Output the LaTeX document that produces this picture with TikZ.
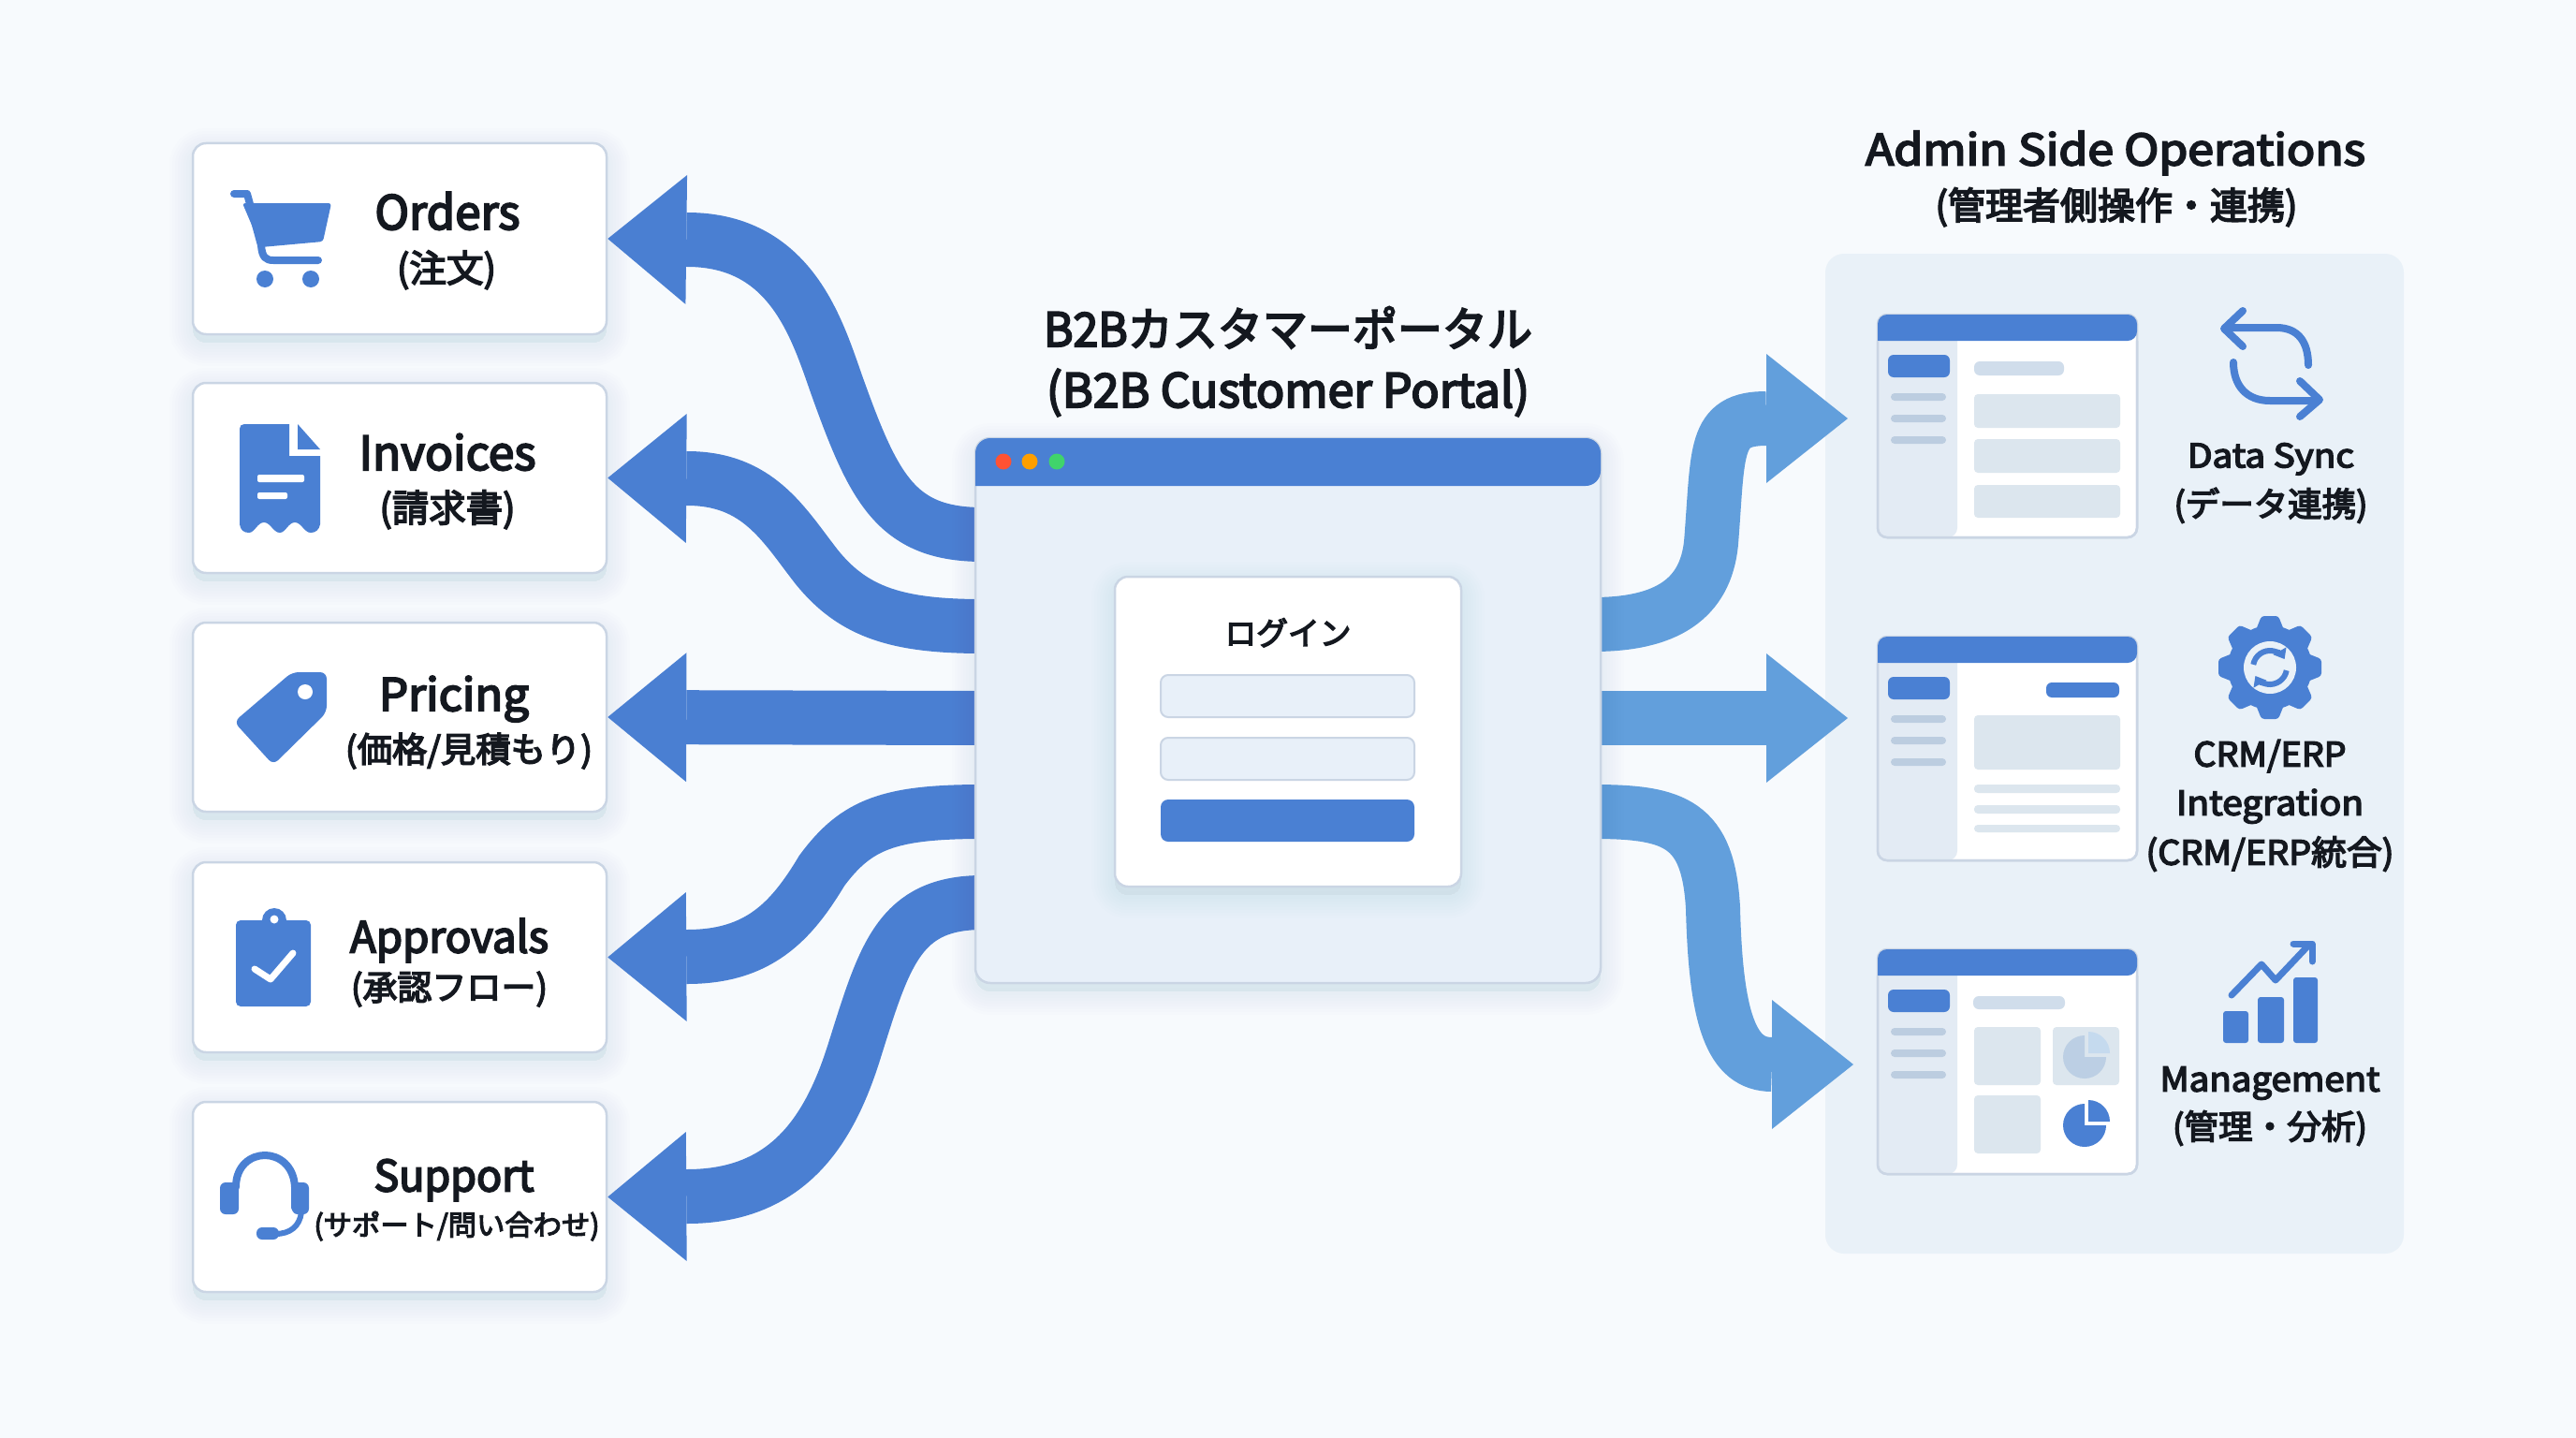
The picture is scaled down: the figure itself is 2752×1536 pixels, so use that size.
\documentclass[tikz,border=0pt]{standalone}
\usepackage{graphicx}
\usepackage{fontspec}
\setmainfont{Noto Sans CJK JP}
\newfontfamily\medfont{Noto Sans CJK JP}[FakeBold=4]
\usetikzlibrary{arrows.meta,shadows}
\definecolor{bgc}{HTML}{F7FAFD}
\definecolor{ink}{HTML}{14181F}
\definecolor{flowL}{HTML}{4A7FD2}
\definecolor{flowR}{HTML}{629FDC}
\definecolor{barblue}{HTML}{4A80D3}
\definecolor{winfill}{HTML}{E8F0F9}
\definecolor{edge}{HTML}{CAD5E4}
\definecolor{panelc}{HTML}{E9F1F8}
\definecolor{sidec}{HTML}{E3EBF4}
\definecolor{barc}{HTML}{BCCDE0}
\definecolor{headc}{HTML}{D0DDEB}
\definecolor{blockc}{HTML}{DCE6EE}
\definecolor{pale}{HTML}{BCCFE4}
\definecolor{paleb}{HTML}{C5DAEE}
\definecolor{shc}{HTML}{5A7396}
\tikzset{
  softshadow/.style={
    general shadow={shadow yshift=-9pt,fill=shc,draw=shc,line width=50pt,opacity=.008},
    general shadow={shadow yshift=-9pt,fill=shc,draw=shc,line width=44pt,opacity=.008},
    general shadow={shadow yshift=-9pt,fill=shc,draw=shc,line width=38pt,opacity=.008},
    general shadow={shadow yshift=-9pt,fill=shc,draw=shc,line width=32pt,opacity=.008},
    general shadow={shadow yshift=-9pt,fill=shc,draw=shc,line width=26pt,opacity=.008},
    general shadow={shadow yshift=-9pt,fill=shc,draw=shc,line width=20pt,opacity=.008},
    general shadow={shadow yshift=-9pt,fill=shc,draw=shc,line width=14pt,opacity=.008},
    general shadow={shadow yshift=-9pt,fill=shc,draw=shc,line width=8pt,opacity=.008}},
  cardbox/.style={draw=edge,line width=2.5pt,fill=white,rounded corners=14pt,inner sep=0pt,softshadow},
  leftflow/.style={draw=flowL,line width=58pt,-{Triangle[length=84pt,width=138pt,line width=0pt,fill=flowL]}},
  rightflow/.style={draw=flowR,line width=58pt,-{Triangle[length=87pt,width=138pt,line width=0pt,fill=flowR]}},
  fieldbox/.style={draw=edge,line width=2pt,fill=winfill,rounded corners=8pt,inner sep=0pt},
  lbl/.style={font=\fontsize{#1}{#1}\selectfont\medfont,text=ink,inner sep=0pt},
  icline/.style={draw=barblue,line width=8pt,line cap=round,line join=round},
  icfill/.style={fill=barblue}
}
\newcommand\lab[6]{\node[lbl=#4] (#1) at (#2,#3) {\rule[-.12em]{0pt}{1em}\smash{\resizebox{#5pt}{\height}{#6}}};}
\newcommand\adminscreen[3]{%
  \node[draw=edge,line width=2.5pt,fill=white,rounded corners=10pt,inner sep=0pt,minimum width=277pt,minimum height=#3pt] (#1) at (2144.5,#2+#3/2) {};
  \begin{scope}[shift={(0,#2)}]
    \fill[sidec,rounded corners=10pt] (2091,20) -- (2006,20) -- (2006,#3) -- (2091,#3) [sharp corners] -- cycle;
    \fill[barblue,rounded corners=10pt] (2006,28) -- (2006,0) -- (2283,0) -- (2283,28) [sharp corners] -- cycle;
    \draw[edge,line width=2.5pt,rounded corners=10pt] (2006,28) -- (2006,#3) -- (2283,#3) -- (2283,28);
    \fill[barblue,rounded corners=6pt] (2017,43) rectangle (2083,67);
    \fill[barc,rounded corners=4pt] (2020,84) rectangle (2079,92);
    \fill[barc,rounded corners=4pt] (2020,107) rectangle (2079,115);
    \fill[barc,rounded corners=4pt] (2020,130) rectangle (2079,138);
  \end{scope}}
\newcommand\piechart[5]{%
  \fill[#4] (#1,#2) -- ++(#3,0) arc[start angle=0,end angle=270,radius=#3] -- cycle;
  \fill[#5] (#1+4,#2-4) -- ++(0,-#3) arc[start angle=270,end angle=360,radius=#3] -- cycle;}
\begin{document}
\begin{tikzpicture}[x=1pt,y=-1pt]
\useasboundingbox (0,0) rectangle (2752,1536);
\fill[bgc] (0,0) rectangle (2752,1536);

% admin panel
\node[fill=panelc,rounded corners=20pt,inner sep=0pt,minimum width=618pt,minimum height=1068pt] (panel) at (2259,805) {};

% left cards
\node[cardbox,minimum width=442pt,minimum height=204pt] (box1) at (427,255) {};
\node[cardbox,minimum width=442pt,minimum height=203pt] (box2) at (427,510.5) {};
\node[cardbox,minimum width=442pt,minimum height=202pt] (box3) at (427,766) {};
\node[cardbox,minimum width=442pt,minimum height=203pt] (box4) at (427,1022.5) {};
\node[cardbox,minimum width=442pt,minimum height=203pt] (box5) at (427,1278.5) {};

% connector ends
\coordinate (w1) at (1050,571);
\coordinate (w2) at (1050,669);
\coordinate (w3) at (1050,767);
\coordinate (w4) at (1050,867);
\coordinate (w5) at (1050,964);
\coordinate (e1) at (1702,667);
\coordinate (e2) at (1702,767);
\coordinate (e3) at (1702,867);
\coordinate (r1) at (1974,447);
\coordinate (r2) at (1974,767);
\coordinate (r3) at (1980,1137);

% left connectors
\draw[leftflow] (w1) .. controls (960,571) and (935,525) .. (897,420) .. controls (875,360) and (850,256) .. (734,256) -- (box1.east);
\draw[leftflow] (w2) .. controls (960,669) and (912,655) .. (872,605) .. controls (837,560) and (810,511) .. (734,511) -- (box2.east);
\draw[leftflow] (w3) -- (box3.east);
\draw[leftflow] (w4) .. controls (950,867) and (915,880) .. (878,930) .. controls (845,985) and (810,1022) .. (734,1022) -- (box4.east);
\draw[leftflow] (w5) .. controls (960,964) and (945,1020) .. (912,1125) .. controls (885,1210) and (840,1278) .. (734,1278) -- (box5.east);

% right connectors
\draw[rightflow] (e1) .. controls (1780,667) and (1822,640) .. (1828,580) .. controls (1836,480) and (1830,447) .. (1887,447) -- (r1);
\draw[rightflow] (e2) -- (r2);
\draw[rightflow] (e3) .. controls (1790,867) and (1825,880) .. (1830,970) .. controls (1833,1090) and (1850,1137) .. (1893,1137) -- (r3);

% main window
\node[draw=edge,line width=2.5pt,fill=winfill,rounded corners=16pt,inner sep=0pt,minimum width=668pt,minimum height=582pt,softshadow] (win) at (1376,759) {};
\fill[barblue,rounded corners=16pt] (1042,519) -- (1042,468) -- (1710,468) -- (1710,519) [sharp corners] -- cycle;
\node[circle,fill=red!70!orange!80,minimum size=17pt,inner sep=0pt] (dotr) at (1072,493) {};
\node[circle,fill=orange!75!yellow,minimum size=17pt,inner sep=0pt] (doty) at (1100,493) {};
\node[circle,fill=green!55!teal!75,minimum size=17pt,inner sep=0pt] (dotg) at (1129,493) {};

% login card
\node[cardbox,minimum width=370pt,minimum height=331pt] (login) at (1376,781.5) {};
\lab{logint}{1376}{676}{34}{135}{ログイン}
\node[fieldbox,minimum width=271pt,minimum height=45pt] (field1) at (1375.5,743.5) {};
\node[fieldbox,minimum width=271pt,minimum height=45pt] (field2) at (1375.5,810.5) {};
\node[fill=barblue,rounded corners=8pt,inner sep=0pt,minimum width=271pt,minimum height=45pt] (loginbtn) at (1375.5,876.5) {};

% titles
\lab{title1}{1376}{351}{50}{522}{B2Bカスタマーポータル}
\lab{title2}{1376}{416}{50}{516}{(B2B Customer Portal)}
\lab{admin1}{2260}{159}{46}{534}{Admin Side Operations}
\lab{admin2}{2261}{219}{40}{387}{(管理者側操作・連携)}

% card labels
\lab{t1a}{478}{226}{50}{155}{Orders}
\lab{t1b}{477}{286}{40}{106}{(注文)}
\lab{t2a}{478}{483}{50}{189}{Invoices}
\lab{t2b}{478}{542}{40}{145}{(請求書)}
\lab{t3a}{485}{741}{48}{160}{Pricing}
\lab{t3b}{501}{800}{37}{264}{(価格/見積もり)}
\lab{t4a}{480}{1000}{46}{212}{Approvals}
\lab{t4b}{480}{1054}{37}{210}{(承認フロー)}
\lab{t5a}{485}{1255}{46}{171}{Support}
\lab{t5b}{488}{1308}{30}{305}{(サポート/問い合わせ)}

% cart icon
\fill[icfill,rounded corners=3pt] (259,217) -- (354,217) -- (345,258) -- (279,264) -- cycle;
\draw[icline] (250,207) -- (264,207) -- (279,262) .. controls (280,275) and (284,278) .. (292,278) -- (340,278);
\fill[icfill] (283,298) circle[radius=9];
\fill[icfill] (332,298) circle[radius=9];

% invoice icon
\fill[icfill] (256,458) .. controls (256,455) and (258,453) .. (261,453) -- (309,453) -- (309,487) -- (342,487) -- (342,560) .. controls (341,566) and (337,569) .. (332,569) .. controls (325,569) and (322,558) .. (315,558) .. controls (308,558) and (305,569) .. (299,569) .. controls (292,569) and (289,558) .. (282,558) .. controls (275,558) and (272,569) .. (266,569) .. controls (260,569) and (257,566) .. (256,560) -- cycle;
\fill[icfill] (318,453) -- (342,480) -- (318,480) -- cycle;
\fill[white,rounded corners=2pt] (275,507) rectangle (325,515);
\fill[white,rounded corners=2pt] (275,526) rectangle (307,533);

% tag icon
\fill[icfill,rounded corners=7pt] (312,718) -- (349,718) -- (349,761) -- (292,817) -- (250,771) -- cycle;
\fill[white] (326,739) circle[radius=8];

% clipboard icon
\fill[icfill] (293,983) circle[radius=13];
\fill[icfill,rounded corners=5pt] (252,983) rectangle (332,1075);
\fill[white] (293,982) circle[radius=4.5];
\draw[white,line width=7pt,line cap=round,line join=round] (272,1035) -- (289,1046) -- (313,1018);

% headset icon
\draw[icline] (252,1268) .. controls (252,1245) and (268,1234) .. (283,1234) .. controls (298,1234) and (314,1245) .. (315,1268) -- (315,1290);
\fill[icfill,rounded corners=6pt] (235,1263) rectangle (255,1297);
\fill[icfill,rounded corners=6pt] (312,1263) rectangle (330,1297);
\draw[icline,line width=6pt] (322,1295) .. controls (320,1310) and (310,1318) .. (294,1318);
\fill[icfill,rounded corners=6pt] (274,1311) rectangle (298,1324);

% admin screens
\adminscreen{scr1}{336}{238}
\adminscreen{scr2}{680}{239}
\adminscreen{scr3}{1014}{240}

% screen 1 content
\fill[headc,rounded corners=6pt] (2109,386) rectangle (2205,401);
\fill[blockc,rounded corners=4pt] (2109,421) rectangle (2265,457);
\fill[blockc,rounded corners=4pt] (2109,469) rectangle (2265,505);
\fill[blockc,rounded corners=4pt] (2109,518) rectangle (2265,553);

% screen 2 content
\fill[barblue,rounded corners=6pt] (2186,729) rectangle (2264,745);
\fill[blockc,rounded corners=4pt] (2109,764) rectangle (2265,822);
\fill[blockc,rounded corners=4pt] (2109,838) rectangle (2265,847);
\fill[blockc,rounded corners=4pt] (2109,860) rectangle (2265,869);
\fill[blockc,rounded corners=4pt] (2109,881) rectangle (2265,889);

% screen 3 content
\fill[headc,rounded corners=6pt] (2108,1064) rectangle (2206,1078);
\fill[blockc,rounded corners=4pt] (2109,1097) rectangle (2180,1159);
\fill[blockc,rounded corners=4pt] (2193,1097) rectangle (2264,1159);
\fill[blockc,rounded corners=4pt] (2109,1170) rectangle (2180,1232);
\piechart{2227}{1129}{23}{pale}{paleb}
\piechart{2227}{1202}{23}{barblue}{barblue}

% sync icon
\draw[icline] (2466,390) .. controls (2466,365) and (2455,350) .. (2432,350) -- (2378,350);
\draw[icline] (2396,332) -- (2376,351) -- (2396,370);
\draw[icline] (2386,387) .. controls (2386,412) and (2400,428) .. (2425,428) -- (2476,428);
\draw[icline] (2457,407) -- (2478,427) -- (2457,445);
\lab{t6a}{2426}{486}{35}{178}{Data Sync}
\lab{t6b}{2426}{538}{36}{207}{(データ連携)}

% gear icon
\foreach \a in {0,45,...,315}{
  \fill[icfill,shift={(2425,713)},rotate=\a,rounded corners=3pt] (-15,-40) -- (-9,-55) -- (9,-55) -- (15,-40) -- cycle;
}
\fill[icfill] (2425,713) circle[radius=45];
\fill[panelc] (2425,713) circle[radius=28];
\draw[draw=barblue,line width=6pt,-{Triangle[length=10pt,width=16pt,line width=0pt,fill=barblue]}] (2425,713) ++(190:18) arc[start angle=190,end angle=330,radius=18];
\draw[draw=barblue,line width=6pt,-{Triangle[length=10pt,width=16pt,line width=0pt,fill=barblue]}] (2425,713) ++(10:18) arc[start angle=10,end angle=150,radius=18];
\lab{t7a}{2425}{805}{36}{163}{CRM/ERP}
\lab{t7b}{2425}{857}{36}{200}{Integration}
\lab{t7c}{2425}{910}{36}{265}{(CRM/ERP統合)}

% chart icon
\fill[icfill,rounded corners=3pt] (2375,1080) rectangle (2402,1114);
\fill[icfill,rounded corners=3pt] (2412,1065) rectangle (2440,1114);
\fill[icfill,rounded corners=3pt] (2450,1044) rectangle (2476,1114);
\draw[icline,line width=7pt] (2384,1063) -- (2416,1030) -- (2431,1047) -- (2466,1010);
\draw[icline,line width=7pt] (2450,1008) -- (2470,1008) -- (2470,1027);
\lab{t8a}{2425}{1152}{36}{235}{Management}
\lab{t8b}{2425}{1203}{36}{208}{(管理・分析)}
\end{tikzpicture}
\end{document}
